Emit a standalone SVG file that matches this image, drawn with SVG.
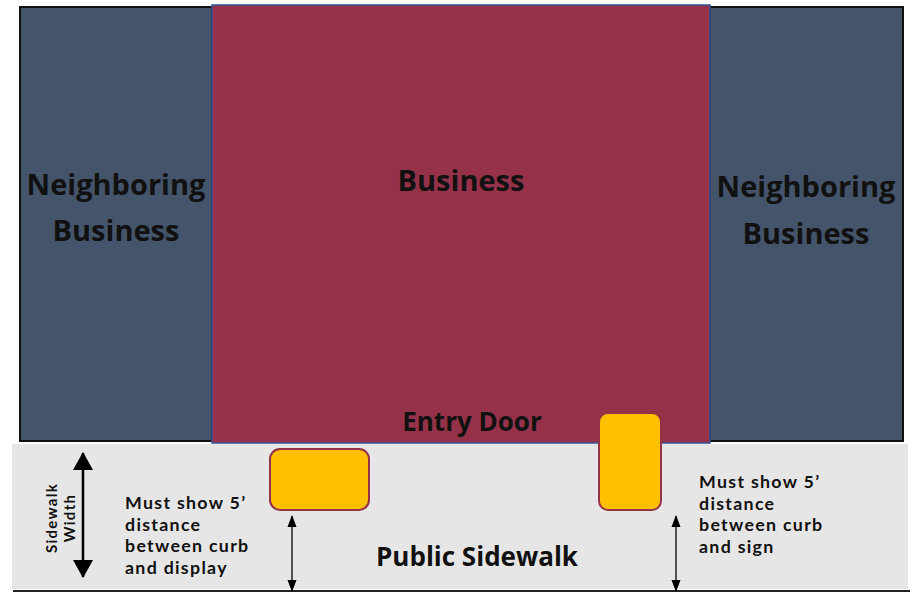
<svg xmlns="http://www.w3.org/2000/svg" width="916" height="594" viewBox="0 0 916 594">
<defs>
<style>
.t{font-family:"Open Sans","Liberation Sans",sans-serif;font-weight:bold;fill:#111}
.s{font-family:Lato,"Open Sans","Liberation Sans",sans-serif;font-weight:bold;fill:#111;letter-spacing:1.3px}
.nb{fill:#44546a;stroke:#111;stroke-width:2}
.item{fill:#ffc000;stroke:#943247;stroke-width:2}
.ln{stroke:#000;fill:none}
</style>
<marker id="ah" viewBox="0 0 12 10" refX="11" refY="5" markerWidth="12" markerHeight="10" orient="auto-start-reverse" markerUnits="userSpaceOnUse"><path d="M0,0.5 L12,5 L0,9.5 Z" fill="#000"/></marker>
<marker id="ahb" viewBox="0 0 18 20" refX="17" refY="10" markerWidth="18" markerHeight="20" orient="auto-start-reverse" markerUnits="userSpaceOnUse"><path d="M0,0 L18,10 L0,20 Z" fill="#000"/></marker>
</defs>
<rect width="916" height="594" fill="#fff"/>
<g id="sidewalk">
<rect x="12" y="444" width="896" height="145" fill="#e7e6e6"/>
<line x1="13" y1="591" x2="910" y2="591" stroke="#222" stroke-width="2"/>
<text class="t" x="477" y="566" font-size="26" text-anchor="middle">Public Sidewalk</text>
</g>
<g id="neighbor-left">
<rect class="nb" x="20" y="7" width="192" height="434"/>
<text class="t" x="116" y="195" font-size="29" text-anchor="middle">Neighboring</text>
<text class="t" x="116" y="241" font-size="29" text-anchor="middle">Business</text>
</g>
<g id="neighbor-right">
<rect class="nb" x="710" y="7" width="193" height="434"/>
<text class="t" x="806" y="197" font-size="29" text-anchor="middle">Neighboring</text>
<text class="t" x="806" y="244" font-size="29" text-anchor="middle">Business</text>
</g>
<g id="business">
<rect x="212" y="5" width="498" height="438" fill="#953249" stroke="#2f5597" stroke-width="1.5"/>
<text class="t" x="461" y="191" font-size="29" text-anchor="middle">Business</text>
<text class="t" x="472" y="431" font-size="26" text-anchor="middle">Entry Door</text>
</g>
<g id="display">
<rect class="item" x="270" y="449" width="99" height="61" rx="10"/>
</g>
<g id="sign">
<rect class="item" x="599" y="413" width="62" height="97" rx="9"/>
</g>
<g id="connectors">
<line class="ln" x1="83" y1="453" x2="83" y2="577" stroke-width="2.5" marker-start="url(#ahb)" marker-end="url(#ahb)"/>
<line class="ln" x1="292" y1="516" x2="292" y2="591" stroke-width="1.3" marker-start="url(#ah)" marker-end="url(#ah)"/>
<line class="ln" x1="676" y1="516" x2="676" y2="591" stroke-width="1.3" marker-start="url(#ah)" marker-end="url(#ah)"/>
</g>
<g id="labels">
<text class="s" transform="translate(57,518) rotate(-90)" font-size="15" text-anchor="middle"><tspan x="0" y="0">Sidewalk</tspan><tspan x="0" y="18">Width</tspan></text>
<text class="s" font-size="17.8"><tspan x="125" y="509">Must show 5’</tspan><tspan x="125" y="530.5">distance</tspan><tspan x="125" y="552">between curb</tspan><tspan x="125" y="573.5">and display</tspan></text>
<text class="s" font-size="17.8"><tspan x="699" y="488">Must show 5’</tspan><tspan x="699" y="509.5">distance</tspan><tspan x="699" y="531">between curb</tspan><tspan x="699" y="552.5">and sign</tspan></text>
</g>
</svg>
